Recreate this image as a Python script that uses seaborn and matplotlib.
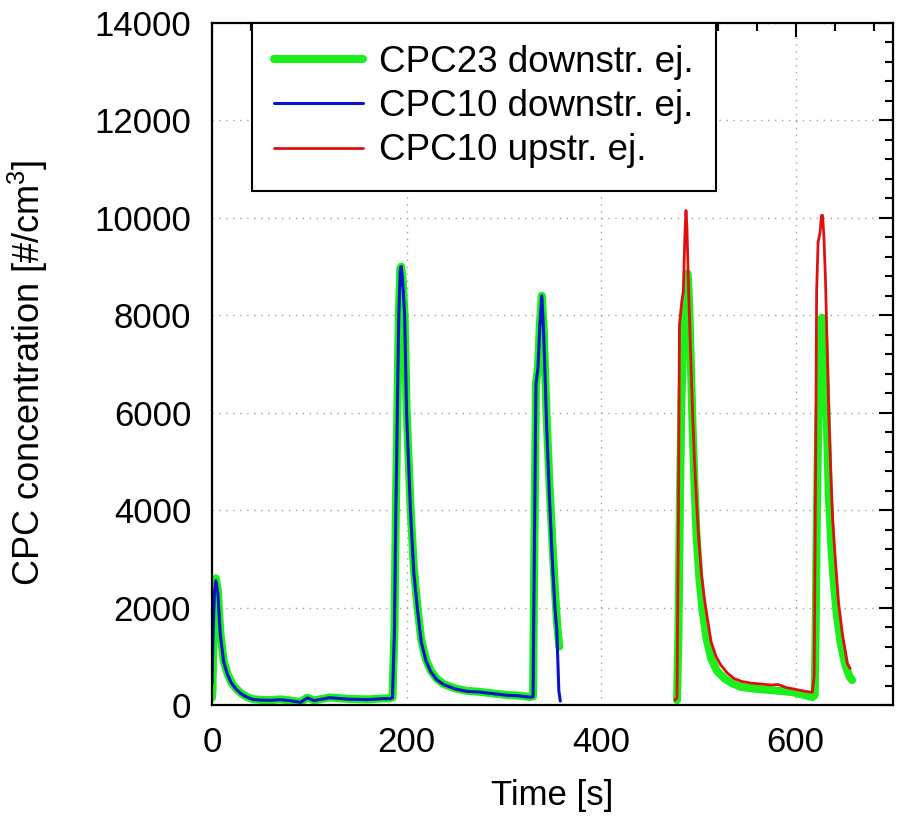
import numpy as np
import pandas as pd
import matplotlib
matplotlib.use("Agg")
import matplotlib.pyplot as plt
import seaborn as sns
from matplotlib.ticker import MultipleLocator

# ---------------- data ----------------
# CPC10 downstream ejector (blue)
t_blue = [0, 1, 2.5, 4, 6, 8.5, 12, 16, 20, 25, 30, 36, 42, 50, 60, 70, 80, 91, 98,
          105, 121, 140, 160, 175, 183, 185.5, 187.5, 189, 190.5, 192, 193.5, 194.5,
          196, 198, 200, 204, 207.5, 211, 215, 220, 225, 231, 238, 250, 262, 275,
          290, 303, 314, 327, 330, 331.5, 333, 335, 337, 339, 341, 344, 347, 350,
          352.5, 354.5, 355.5, 356.5, 358]
c_blue = [450, 1400, 2300, 2550, 2300, 1450, 880, 620, 450, 320, 230, 160, 115, 100,
          95, 110, 90, 55, 145, 90, 150, 120, 110, 130, 130, 150, 1500, 4000, 6000,
          8000, 8950, 9000, 8700, 8000, 6000, 4000, 2700, 2000, 1300, 900, 680, 520,
          420, 330, 280, 265, 230, 200, 190, 160, 170, 3500, 6600, 6900, 7800, 8400,
          7600, 5700, 4200, 2900, 2000, 1500, 900, 300, 80]

# CPC23 downstream ejector (green), first and second measurement segment
t_green1 = [0, 0.5, 1.5, 2.5, 4, 6, 8.5, 12, 16, 20, 25, 30, 36, 42, 50, 60, 70, 80,
            91, 98, 105, 121, 140, 160, 175, 183, 185.5, 187.5, 189, 190.5, 192,
            193.5, 194.5, 196, 198, 200, 204, 207.5, 211, 215, 220, 225, 231, 238,
            250, 262, 275, 290, 303, 314, 327, 330, 331.5, 333, 335, 337, 339, 341,
            344, 347, 350, 353, 355, 357]
c_green1 = [150, 300, 1500, 2400, 2600, 2350, 1500, 900, 640, 460, 330, 240, 165, 120,
            105, 100, 115, 95, 60, 150, 95, 155, 125, 115, 135, 135, 155, 1500, 4000,
            6000, 8000, 8950, 9000, 8700, 8000, 6100, 4100, 2800, 2050, 1350, 930,
            700, 540, 430, 340, 290, 270, 235, 205, 195, 165, 175, 3500, 6600, 6900,
            7800, 8400, 7700, 5900, 4500, 3300, 2200, 1600, 1200]
t_green2 = [478, 479.5, 481, 482.5, 484, 485.5, 487, 488.5, 489.5, 491, 492.5, 494,
            496, 498, 501, 504.5, 508, 513, 519, 527, 535, 544, 560, 578, 596, 610,
            617, 619.5, 620.5, 621.5, 623, 625, 627, 628.5, 630, 632, 634, 636.5, 639,
            642, 646, 650, 653, 656, 658]
c_green2 = [100, 1500, 4200, 6200, 7300, 7900, 8400, 8860, 8700, 7900, 6800, 5700,
            4500, 3500, 2600, 1900, 1400, 960, 700, 540, 440, 370, 330, 300, 265, 200,
            160, 200, 1500, 3500, 5600, 7000, 7950, 7900, 7100, 5800, 4300, 3300, 2550,
            1900, 1300, 900, 700, 560, 510]

# CPC10 upstream ejector (red)
t_red = [476, 478, 479.5, 480.5, 482, 483, 484.5, 486, 487.2, 488.2, 489.5, 491, 492.5,
         494, 496, 498, 500, 503, 506, 509, 513, 518, 523, 530, 537, 545, 554, 565,
         575, 582, 590, 600, 610, 617, 619, 620.5, 621.5, 623, 625, 626.5, 627.6, 629,
         630.5, 632, 634, 636, 638, 641, 644, 648, 651, 653, 655, 656]
c_red = [100, 150, 4000, 7800, 8100, 8300, 8500, 9600, 10150, 9800, 8800, 7800, 6900,
         6000, 5000, 4200, 3500, 2700, 2200, 1800, 1300, 1000, 820, 650, 540, 480, 450,
         430, 410, 420, 360, 320, 280, 260, 600, 5000, 8500, 9500, 9700, 10050, 10050,
         9600, 8800, 7600, 6000, 4800, 3800, 2900, 2100, 1450, 1100, 850, 780, 750]

labels = ["CPC23 downstr. ej.", "CPC10 downstr. ej.", "CPC10 upstr. ej."]
x_ticks = [0, 200, 400, 600]
y_ticks = [0, 2000, 4000, 6000, 8000, 10000, 12000, 14000]

df_green1 = pd.DataFrame({"time": t_green1, "conc": c_green1})
df_green2 = pd.DataFrame({"time": t_green2, "conc": c_green2})
df_blue = pd.DataFrame({"time": t_blue, "conc": c_blue})
df_red = pd.DataFrame({"time": t_red, "conc": c_red})

# ---------------- style ----------------
sns.set_style("white")
plt.rcParams["font.family"] = ["Liberation Sans", "DejaVu Sans"]
plt.rcParams["mathtext.fontset"] = "custom"
plt.rcParams["mathtext.rm"] = "Liberation Sans"
plt.rcParams["mathtext.it"] = "Liberation Sans"
plt.rcParams["text.color"] = "black"
plt.rcParams["axes.labelcolor"] = "black"
plt.rcParams["xtick.color"] = "black"
plt.rcParams["ytick.color"] = "black"

fig = plt.figure(figsize=(9, 8.26), dpi=100)
ax = fig.add_axes([212 / 900, 1 - 705 / 826, 681 / 900, 682 / 826])

green = "#1cf01c"
blue = "#0a14c8"
red = "#e01010"

sns.lineplot(data=df_green1, x="time", y="conc", ax=ax, color=green, lw=5.8,
             solid_capstyle="round", solid_joinstyle="round", label=labels[0])
sns.lineplot(data=df_green2, x="time", y="conc", ax=ax, color=green, lw=5.8,
             solid_capstyle="round", solid_joinstyle="round", label="_nolegend_")
sns.lineplot(data=df_blue, x="time", y="conc", ax=ax, color=blue, lw=2.2,
             label=labels[1])
sns.lineplot(data=df_red, x="time", y="conc", ax=ax, color=red, lw=2.0,
             label=labels[2])

ax.set_xlim(0, 700)
ax.set_ylim(0, 14000)
ax.set_xticks(x_ticks)
ax.set_yticks(y_ticks)
ax.xaxis.set_minor_locator(MultipleLocator(40))
ax.yaxis.set_minor_locator(MultipleLocator(400))

ax.grid(True, which="major", linestyle=(0, (1, 4)), color="#a0a0a0", lw=1.0)
ax.set_axisbelow(True)

for s in ax.spines.values():
    s.set_visible(True)
    s.set_color("black")
    s.set_linewidth(1.6)

ax.tick_params(which="both", direction="in", top=True, right=True,
               color="black", labelcolor="black", width=1.5, labelsize=25)
ax.tick_params(which="major", length=10)
ax.tick_params(which="minor", length=6)
ax.tick_params(axis="x", which="major", pad=15)
ax.tick_params(axis="y", which="major", pad=15)

ax.set_xlabel("Time [s]", fontsize=25, color="black")
ax.set_ylabel("CPC concentration [#/cm$^3$]", fontsize=26, color="black")
ax.xaxis.set_label_coords(0.5, -0.108)
ax.yaxis.set_label_coords(-0.238, 0.487)

leg = ax.legend(loc="upper left", bbox_to_anchor=(0.059, 1.0), borderaxespad=0,
                fontsize=26.5, frameon=True, fancybox=False, framealpha=1,
                edgecolor="black", handlelength=2.42, handletextpad=0.43,
                labelspacing=0.25, borderpad=0.6)
leg.get_frame().set_linewidth(1.5)
for txt in leg.get_texts():
    txt.set_color("black")

fig.savefig("out.png", dpi=100)
